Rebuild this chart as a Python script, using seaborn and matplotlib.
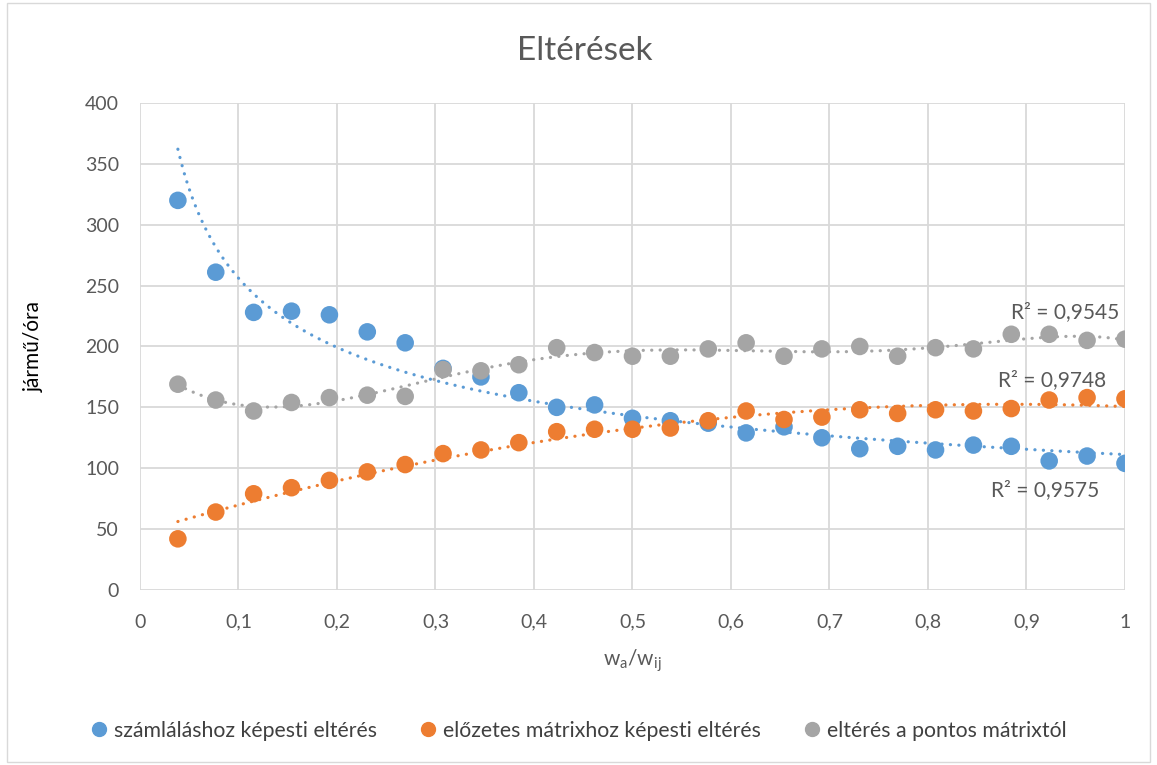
import numpy as np
import pandas as pd
import matplotlib
matplotlib.use("Agg")
import matplotlib.pyplot as plt
import seaborn as sns
from matplotlib.patches import Rectangle

# x positions: 26 steps of 1/26
x_vals = [k / 26 for k in range(1, 27)]

szamlalas = [320, 261, 228, 229, 226, 212, 203, 182, 175, 162, 150, 152, 141,
             139, 137, 129, 134, 125, 116, 118, 115, 119, 118, 106, 110, 104]
elozetes = [42, 64, 79, 84, 90, 97, 103, 112, 115, 121, 130, 132, 132,
            133, 139, 147, 140, 142, 148, 145, 148, 147, 149, 156, 158, 157]
pontos = [169, 156, 147, 154, 158, 160, 159, 181, 180, 185, 199, 195, 192,
          192, 198, 203, 192, 198, 200, 192, 199, 198, 210, 210, 205, 206]

series_names = ["számláláshoz képesti eltérés",
                "előzetes mátrixhoz képesti eltérés",
                "eltérés a pontos mátrixtól"]
colors = ["#5B9BD5", "#ED7D31", "#A5A5A5"]
r2_labels = ["R² = 0,9575", "R² = 0,9748", "R² = 0,9545"]
r2_pos = [(0.919, 82), (0.926, 172), (0.939, 228)]

x_ticks = [0, 0.1, 0.2, 0.3, 0.4, 0.5, 0.6, 0.7, 0.8, 0.9, 1]
x_ticklabels = ["0", "0,1", "0,2", "0,3", "0,4", "0,5", "0,6", "0,7", "0,8", "0,9", "1"]
y_ticks = [0, 50, 100, 150, 200, 250, 300, 350, 400]

df = pd.DataFrame({
    "x": x_vals * 3,
    "y": szamlalas + elozetes + pontos,
    "series": [series_names[0]] * 26 + [series_names[1]] * 26 + [series_names[2]] * 26,
})

sns.set_theme(style="whitegrid")
plt.rcParams["font.family"] = ["Lato", "DejaVu Sans"]
plt.rcParams["mathtext.fontset"] = "custom"
plt.rcParams["mathtext.rm"] = "Lato"

fig = plt.figure(figsize=(11.57, 7.65), dpi=100)
ax = fig.add_axes([0.121, 0.2288, 0.8513, 0.6366])

# trend lines (Excel style: power, poly2, poly6)
xs = np.linspace(x_vals[0], 1, 300)
xa = np.array(x_vals)
b, lna = np.polyfit(np.log(xa), np.log(szamlalas), 1)
trend_blue = np.exp(lna) * xs ** b
trend_orange = np.polyval(np.polyfit(xa, elozetes, 2), xs)
trend_gray = np.polyval(np.polyfit(xa, pontos, 6), xs)
for tr, c in zip([trend_blue, trend_orange, trend_gray], colors):
    ax.plot(xs, tr, color=c, lw=2.3, linestyle=(0, (0.05, 2.6)),
            dash_capstyle="round", zorder=2)

sns.scatterplot(data=df, x="x", y="y", hue="series", palette=colors,
                s=160, edgecolor="none", ax=ax, zorder=3, legend=False)

for lab, (px, py) in zip(r2_labels, r2_pos):
    ax.text(px, py, lab, ha="center", va="center", fontsize=15, color="#595959")

ax.set_xlim(0, 1)
ax.set_ylim(0, 400)
ax.set_xticks(x_ticks)
ax.set_xticklabels(x_ticklabels)
ax.set_yticks(y_ticks)
ax.tick_params(axis="both", labelsize=14, colors="#595959", length=0)
ax.tick_params(axis="x", pad=17)
ax.tick_params(axis="y", pad=15)
ax.grid(True, color="#D9D9D9", lw=1.3)
for s in ax.spines.values():
    s.set_visible(False)

ax.set_xlabel(r"w$_\mathregular{a}$/w$_\mathregular{ij}$", fontsize=15,
              color="#595959", labelpad=12)
ax.set_ylabel("jármű/óra", fontsize=15, color="black", labelpad=30)
fig.text(0.505, 0.933, "Eltérések", ha="center", va="center", fontsize=24,
         color="#595959")

handles = [plt.Line2D([], [], marker="o", ls="none", color=c, markersize=10)
           for c in colors]
fig.legend(handles, series_names, loc="center", bbox_to_anchor=(0.5, 0.045),
           ncol=3, frameon=False, fontsize=15.3, handlelength=0.8,
           handletextpad=0.3, columnspacing=2.0, labelcolor="#404040")

fig.patches.append(Rectangle((0.006, 0.004), 0.988, 0.992, transform=fig.transFigure,
                             fill=False, edgecolor="#D9D9D9", lw=1))

fig.savefig("out.png", dpi=100, facecolor="white")
